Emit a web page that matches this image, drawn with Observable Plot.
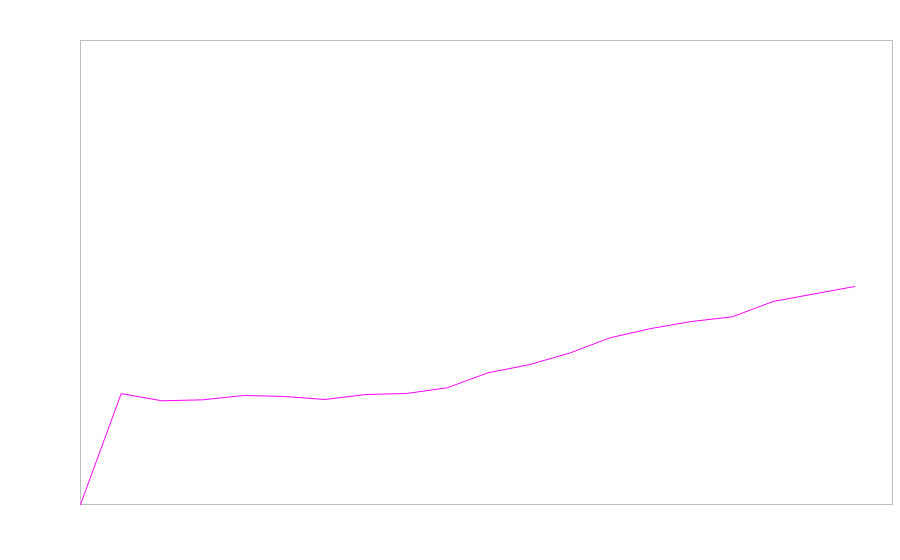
<!DOCTYPE html>
<html>
<head>
<meta charset="utf-8">
<script src="https://cdn.jsdelivr.net/npm/d3@7"></script>
<script src="https://cdn.jsdelivr.net/npm/@observablehq/plot@0.6"></script>
<style>
  html, body { margin: 0; padding: 0; background: #fff; }
</style>
</head>
<body>
<div id="chart"></div>
<script>
const steps = [0, 1, 2, 3, 4, 5, 6, 7, 8, 9, 10, 11, 12, 13, 14, 15, 16, 17, 18, 19];
const values = [0, 23.9, 22.35, 22.56, 23.49, 23.28, 22.63, 23.71, 23.92, 25.15, 28.38, 30.11, 32.61, 35.93, 37.93, 39.44, 40.45, 43.75, 45.37, 46.98];

const data = steps.map((s, i) => ({x: s, y: values[i]}));

const chart = Plot.plot({
  width: 900,
  height: 560,
  marginTop: 40,
  marginBottom: 56,
  marginLeft: 80,
  marginRight: 8,
  style: {background: "#fff"},
  x: {domain: [0, 19.93], axis: null},
  y: {domain: [0, 100], axis: null},
  marks: [
    Plot.frame({stroke: "#bdbdbd", strokeOpacity: 1}),
    Plot.line(data, {x: "x", y: "y", stroke: "#ff00ff", strokeWidth: 1})
  ]
});
document.getElementById("chart").appendChild(chart);
</script>
</body>
</html>
